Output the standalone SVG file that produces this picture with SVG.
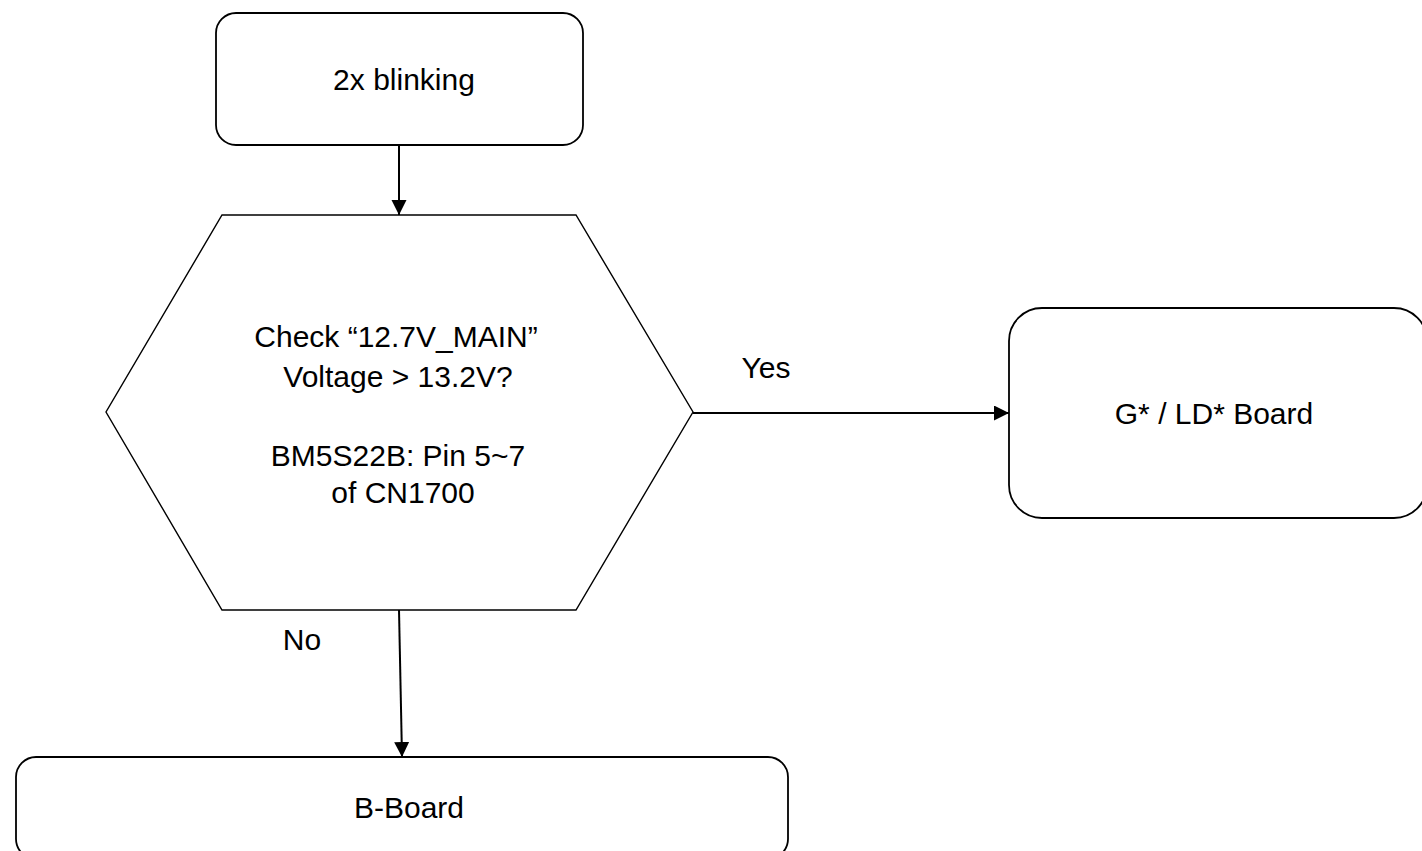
<svg xmlns="http://www.w3.org/2000/svg" width="1422" height="851" viewBox="0 0 1422 851">
  <style>
    .box { fill: #ffffff; stroke: #000000; stroke-width: 1.8; }
    .hex { fill: #ffffff; stroke: #000000; stroke-width: 1.4; }
    .edge { fill: none; stroke: #000000; stroke-width: 2; }
    .t { font-family: "Liberation Sans", Arial, sans-serif; font-size: 30px; fill: #000000; text-anchor: middle; }
  </style>
  <defs>
    <marker id="arrow" markerWidth="16" markerHeight="16" refX="15" refY="7.5" orient="auto" markerUnits="userSpaceOnUse">
      <path d="M0,0 L15,7.5 L0,15 Z" fill="#000000"/>
    </marker>
  </defs>
  <rect width="1422" height="851" fill="#ffffff"/>

  <g id="connectors">
    <line class="edge" x1="399" y1="145" x2="399" y2="215" marker-end="url(#arrow)"/>
    <line class="edge" x1="693" y1="413" x2="1009" y2="413" marker-end="url(#arrow)"/>
    <line class="edge" x1="399" y1="610" x2="402" y2="757" marker-end="url(#arrow)"/>
    <text class="t" x="766" y="378">Yes</text>
    <text class="t" x="302" y="650">No</text>
  </g>

  <g id="node-start">
    <rect class="box" x="216" y="13" width="367" height="132" rx="20" ry="20"/>
    <text class="t" x="404" y="90">2x blinking</text>
  </g>

  <g id="node-decision">
    <polygon class="hex" points="222,215 576,215 693,412 576,610 222,610 106,412"/>
    <text class="t" x="396" y="347">Check “12.7V_MAIN”</text>
    <text class="t" x="398" y="387">Voltage &gt; 13.2V?</text>
    <text class="t" x="398" y="466">BM5S22B: Pin 5~7</text>
    <text class="t" x="403" y="503">of CN1700</text>
  </g>

  <g id="node-yes">
    <rect class="box" x="1009" y="308" width="418" height="210" rx="33" ry="33"/>
    <text class="t" x="1214" y="424">G* / LD* Board</text>
  </g>

  <g id="node-no">
    <rect class="box" x="16" y="757" width="772" height="102" rx="20" ry="20"/>
    <text class="t" x="409" y="818">B-Board</text>
  </g>
</svg>
